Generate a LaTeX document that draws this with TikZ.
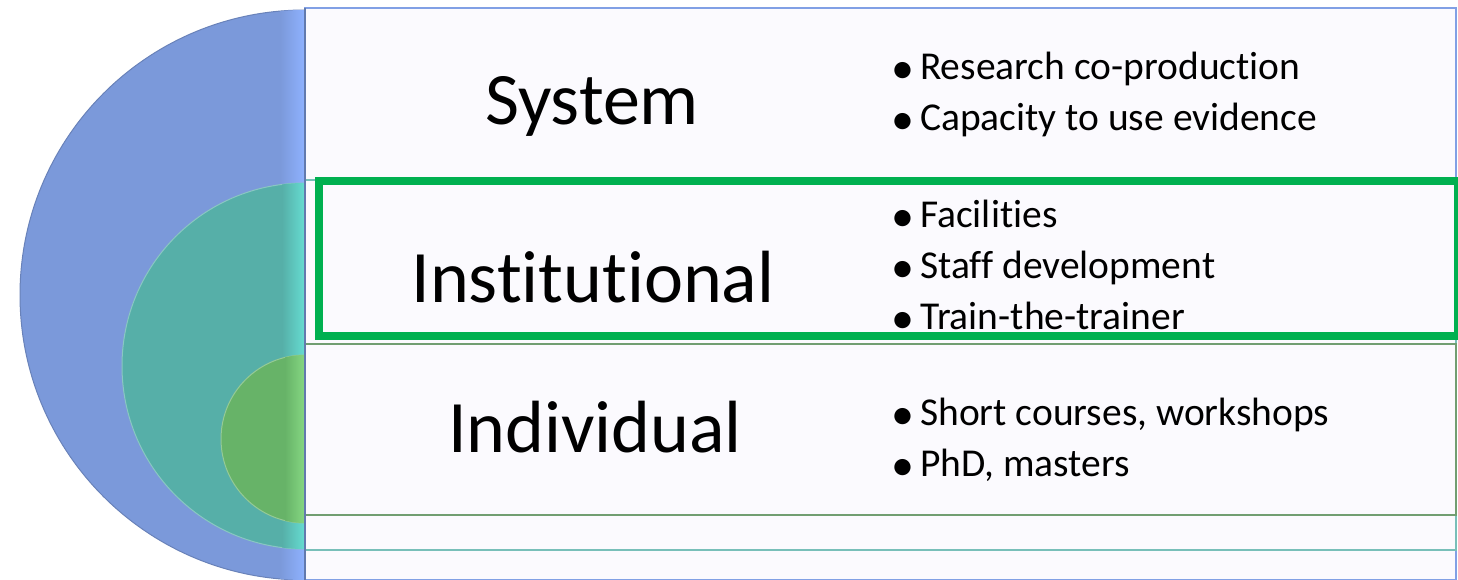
\documentclass[tikz,border=0pt]{standalone}
\usepackage{fontspec}
\setmainfont{Carlito}[RawFeature={-liga;-clig;-dlig;-calt}]
\usepackage{tikz}

\definecolor{sysblue}{HTML}{7B99DA}
\definecolor{syslight}{HTML}{8FB2FF}
\definecolor{instteal}{HTML}{56AFA8}
\definecolor{instlight}{HTML}{66DDD2}
\definecolor{indgreen}{HTML}{67B368}
\definecolor{indlight}{HTML}{86D883}
\definecolor{paper}{HTML}{FBFAFE}
\definecolor{hlgreen}{HTML}{00B050}

\newcommand{\dotitem}{\makebox[27pt][l]{\hspace{-2pt}\raisebox{-4pt}{\fontsize{46}{51}\selectfont\textbullet}}}

\begin{document}
\begin{tikzpicture}[x=1pt, y=-1pt,
    title/.style={font=\fontsize{74}{80}\selectfont, anchor=base, inner sep=0pt},
    point/.style={font=\fontsize{39.5}{51}\selectfont, anchor=base west, inner sep=0pt},
    band/.style={fill=paper, line width=2.5pt}]

\useasboundingbox (0,0) rectangle (1458,580);

% nested half discs
\filldraw[fill=sysblue, draw=sysblue!85!black, line width=1pt] (305,10) arc (270:90:285) -- cycle;
\begin{scope}
  \clip (305,10) arc (270:90:285) -- cycle;
  \shade[left color=sysblue, right color=syslight] (280,0) rectangle (305,580);
\end{scope}
\filldraw[fill=instteal, draw=instteal!70!white, line width=1pt] (305,183) arc (270:90:183) -- cycle;
\begin{scope}
  \clip (305,183) arc (270:90:183) -- cycle;
  \shade[left color=instteal, right color=instlight] (282,0) rectangle (305,580);
\end{scope}
\filldraw[fill=indgreen, draw=indgreen!70!white, line width=1pt] (305,355) arc (270:90:84) -- cycle;
\begin{scope}
  \clip (305,355) arc (270:90:84) -- cycle;
  \shade[left color=indgreen, right color=indlight] (285,0) rectangle (305,580);
\end{scope}

% bands
\draw[band, draw=syslight!90!black] (305,8) rectangle (1456,580);
\draw[band, draw=instteal!80!white] (305,180) rectangle (1456,550);
\draw[band, draw=indgreen!60!gray] (305,344) rectangle (1456,515);
\draw[sysblue!80!black, line width=2.5pt] (305,8) -- (305,580);
\draw[hlgreen, line width=8pt] (319,181) rectangle (1458,336);

% levels
\node[title] (system) at (592,125) {System};
\node[title] (institutional) at (593,302) {Institutional};
\node[title] (individual) at (595,452) {Individual};

% activities
\foreach \t [count=\i] in {Research co-production, Capacity to use evidence}
  \node[point] (sys\i) at (893,{29+51*\i}) {\dotitem\t};
\foreach \t [count=\i] in {Facilities, Staff development, Train-the-trainer}
  \node[point] (inst\i) at (893,{176+51*\i}) {\dotitem\t};
\foreach \t [count=\i] in {{Short courses, workshops}, {PhD, masters}}
  \node[point] (ind\i) at (893,{374+51*\i}) {\dotitem\t};

\end{tikzpicture}
\end{document}
